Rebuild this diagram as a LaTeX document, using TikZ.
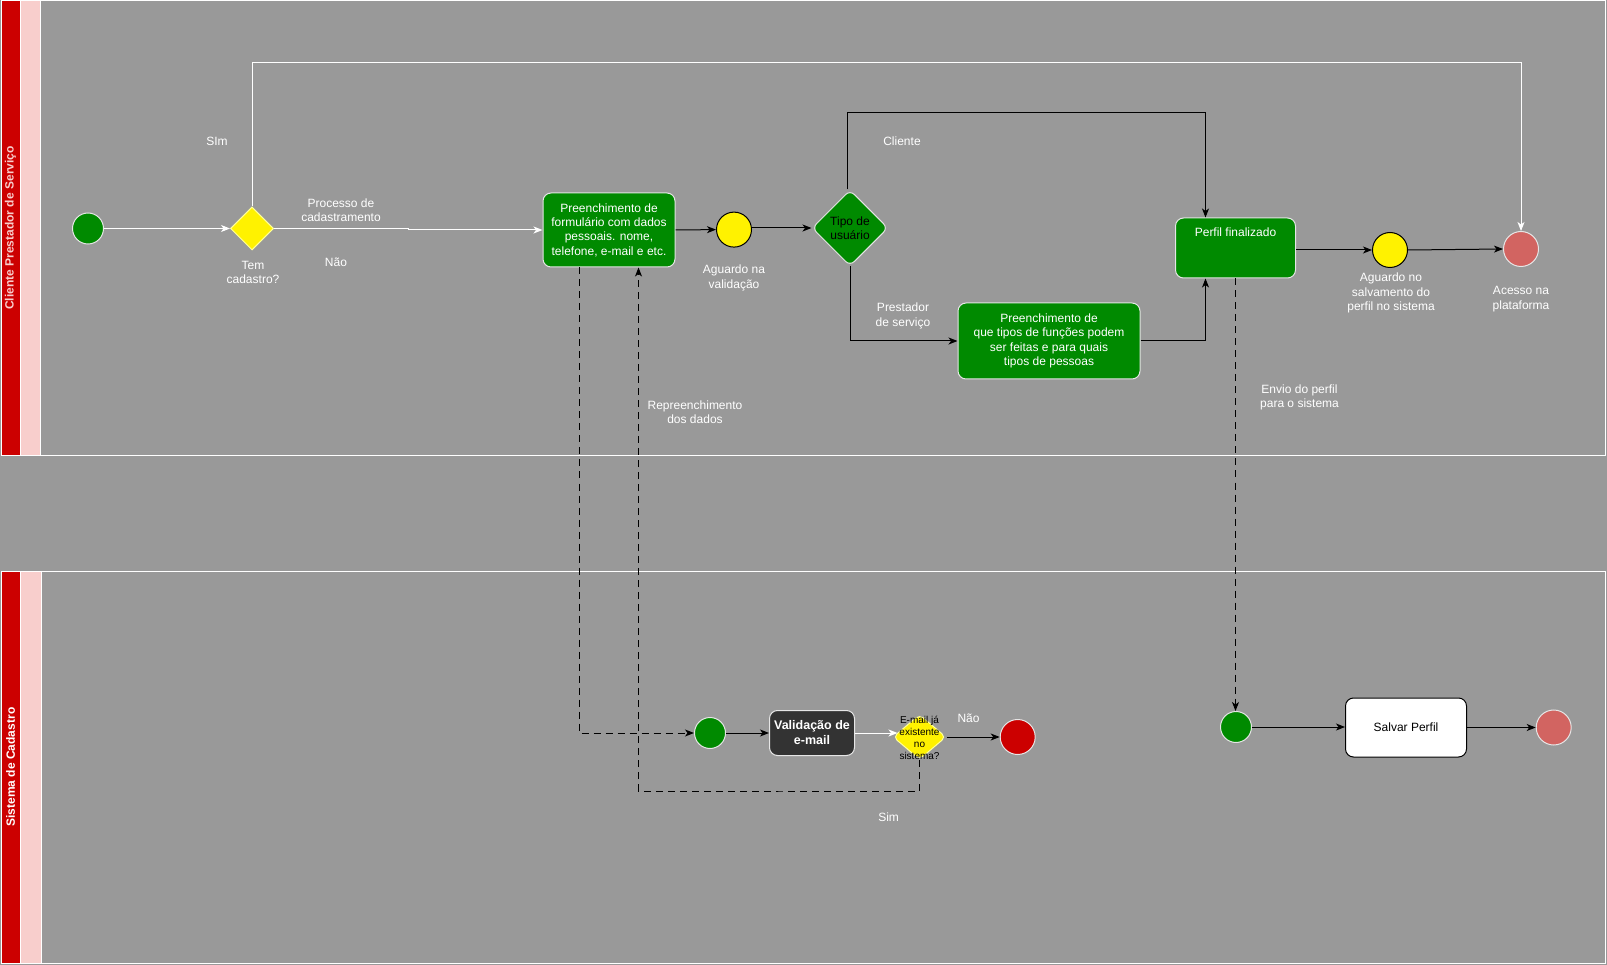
\documentclass[tikz,border=0pt]{standalone}
\usepackage{fontspec}
\setmainfont{Liberation Sans}
\usetikzlibrary{shapes.geometric,arrows.meta}
\definecolor{bg}{HTML}{999999}
\definecolor{lanered}{HTML}{CC0000}
\definecolor{lanepink}{HTML}{F8CECC}
\definecolor{gfill}{HTML}{008A00}
\definecolor{endlight}{HTML}{D26461}
\definecolor{darkbox}{HTML}{333333}
\definecolor{edgew}{HTML}{E6E6E6}
\definecolor{ypale}{HTML}{FFFF99}
\tikzset{
 lbl/.style={text=white, font=\fontsize{12}{14.5}\selectfont, align=center, inner sep=0},
 arr/.style={line width=1pt, -{Stealth[length=9pt,width=7pt,inset=2.5pt]}},
 dsh/.style={dash pattern=on 7pt off 5pt},
 evt/.style={circle, minimum size=31pt, inner sep=0, line width=1pt},
 task/.style={rectangle, rounded corners=8pt, line width=1pt, inner sep=2pt, align=center, font=\fontsize{12}{14.3}\selectfont},
 lanebox/.style={draw=white, line width=1pt},
}
\begin{document}
\begin{tikzpicture}[x=1pt,y=-1pt]
\useasboundingbox (0,0) rectangle (1607,965);
\fill[bg] (0,0) rectangle (1607,965);
% lanes
\draw[lanebox, fill=bg] (1,1) rectangle (1605,456);
\draw[lanebox, fill=lanered] (1,1) rectangle (20.5,456);
\draw[lanebox, fill=lanepink] (20.5,1) rectangle (40,456);
\draw[lanebox, fill=bg] (1,571) rectangle (1605,963);
\draw[lanebox, fill=lanered] (1,571) rectangle (20.5,963);
\draw[lanebox, fill=lanepink] (20.5,571) rectangle (41,963);
\node[rotate=90, text=lanepink, font=\bfseries\fontsize{12}{14}\selectfont, inner sep=0] (lane1) at (10.5,228) {Cliente Prestador de Serviço};
\node[rotate=90, text=white, font=\bfseries\fontsize{12}{14}\selectfont, inner sep=0] (lane2) at (10.5,767) {Sistema de Cadastro};

% top lane nodes
\node[evt, fill=gfill, draw=edgew] (st) at (88,228.5) {};
\node[diamond, fill=yellow, draw=ypale, minimum width=43pt, minimum height=43pt, inner sep=0, line width=1pt] (gw1) at (252,228.5) {};
\node[task, fill=gfill, draw=edgew, minimum width=132pt, minimum height=74pt, text=white] (form) at (609,230) {Preenchimento de\\formulário com dados\\pessoais. nome,\\telefone, e-mail e etc.};
\node[evt, fill=yellow, draw=black, minimum size=35pt] (y1) at (734,229.6) {};
\node[diamond, fill=gfill, draw=edgew, minimum width=76pt, minimum height=76pt, inner sep=0, rounded corners=6pt, line width=1pt] (tipo) at (850,228) {};
\node[font=\fontsize{12}{14.5}\selectfont, align=center, inner sep=0] (tipot) at (850,228) {Tipo de\\usuário};
\node[task, fill=gfill, draw=edgew, minimum width=182pt, minimum height=76pt, text=white] (box2) at (1049,341) {Preenchimento de\\que tipos de funções podem\\ser feitas e para quais\\tipos de pessoas};
\node[task, fill=gfill, draw=edgew, minimum width=120pt, minimum height=60pt] (perfil) at (1235.5,248) {};
\node[lbl] (perfilt) at (1235.5,232) {Perfil finalizado};
\node[evt, fill=yellow, draw=black, minimum size=35pt] (y2) at (1390,250) {};
\node[evt, fill=endlight, draw=edgew, minimum size=35pt] (acesso) at (1521,249) {};

% bottom lane nodes
\node[evt, fill=gfill, draw=edgew] (s1) at (710,733) {};
\node[task, fill=darkbox, draw=edgew, minimum width=85pt, minimum height=45pt, text=white, font=\bfseries\fontsize{12.5}{15}\selectfont] (val) at (812,733) {Validação de\\e-mail};
\node[diamond, fill=yellow, draw=ypale, minimum width=53pt, minimum height=45pt, inner sep=0, rounded corners=5pt, line width=1pt] (email) at (919.5,737) {};
\node[font=\fontsize{10}{11.8}\selectfont, align=center, inner sep=0] (emailt) at (919.5,738) {E-mail já\\existente\\no\\sistema?};
\node[evt, fill=lanered, draw=edgew, minimum size=35pt] (red1) at (1017.7,737) {};
\node[evt, fill=gfill, draw=edgew] (s2) at (1236,727) {};
\node[task, fill=white, draw=black, minimum width=121pt, minimum height=59pt, text=black] (salvar) at (1406,727.5) {Salvar Perfil};
\node[evt, fill=endlight, draw=edgew, minimum size=35pt] (end2) at (1553.7,727.5) {};

% labels
\node[lbl] (lsim) at (217,141.5) {SIm};
\node[lbl] (lproc) at (341,210) {Processo de\\cadastramento};
\node[lbl] (lnao) at (336,262.5) {Não};
\node[lbl] (ltem) at (253,272.6) {Tem\\cadastro?};
\node[lbl] (lagv) at (734,278) {Aguardo na\\validação};
\node[lbl] (lcli) at (902,141.5) {Cliente};
\node[lbl] (lprest) at (903,316) {Prestador\\de serviço};
\node[lbl] (lrep) at (695,412) {Repreenchimento\\dos dados};
\node[lbl] (lenv) at (1299.5,397.5) {Envio do perfil\\para o sistema};
\node[lbl] (lags) at (1391,293) {Aguardo no\\salvamento do\\perfil no sistema};
\node[lbl] (lacc) at (1521,299) {Acesso na\\plataforma};
\node[lbl] (lnao2) at (968.5,718.5) {Não};
\node[lbl] (lsim2) at (888.6,817) {Sim};

% coordinates for routing
\coordinate (loopTop) at (700,62.5);
\coordinate (jog) at (408,228.5);
\coordinate (cliTop) at (1000,112.7);
\coordinate (loopBot) at (780,791);

% connectors
\draw[arr, white] (st) -- (gw1);
\draw[arr, white] (gw1.north) |- (loopTop) -| (acesso.north);
\draw[arr, white] (gw1.east) -- (jog) -- (jog |- form.west) -- (form.west);
\draw[arr] (form.east) -- (y1.west);
\draw[arr] (y1.east |- tipo.west) -- (tipo.west);
\draw[arr] ([xshift=-3]tipo.north) |- (cliTop) -| ([xshift=-30]perfil.north);
\draw[arr] (tipo.south) |- (box2.west);
\draw[arr] (box2.east) -| ([xshift=-30]perfil.south);
\draw[arr] (perfil.east |- y2) -- (y2.west);
\draw[arr] (y2.east) -- (acesso.west);
\draw[arr, dsh] (perfil.south) -- (perfil.south |- s2.north);
\draw[arr] (s2.east) -- (s2.east -| salvar.west);
\draw[arr] (salvar.east) -- (end2.west);
\draw[arr, dsh] ([xshift=-30]form.south) |- (s1.west);
\draw[arr] (s1.east) -- (val.west);
\draw[arr, white] (val.east) -- ([xshift=5]val.east -| email.west);
\draw[arr] (email.east) -- (red1.west);
\draw[arr, dsh] (email.south) |- (loopBot) -| ([xshift=29.5]form.south);
\end{tikzpicture}
\end{document}
